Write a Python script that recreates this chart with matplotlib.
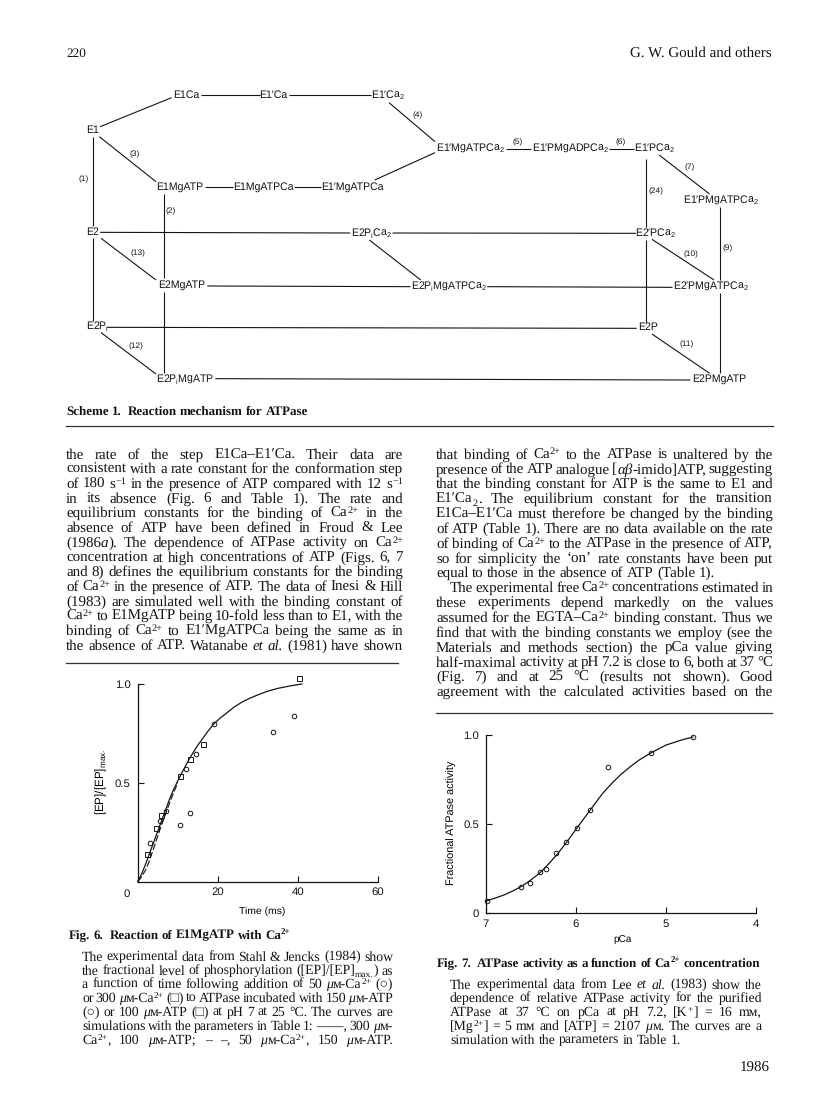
import re
import matplotlib
matplotlib.use("Agg")
import matplotlib.pyplot as plt

W, H = 816, 1101
SERIF = ['Liberation Serif', 'DejaVu Serif']
SANS = ['Liberation Sans', 'DejaVu Sans']
INK = '#141414'

plt.rcParams['font.family'] = SANS
plt.rcParams['mathtext.fontset'] = 'custom'
plt.rcParams['mathtext.rm'] = 'Liberation Sans'
plt.rcParams['mathtext.default'] = 'rm'
plt.rcParams['text.color'] = INK
plt.rcParams['text.hinting'] = 'no_hinting'
plt.rcParams['axes.edgecolor'] = INK
plt.rcParams['xtick.color'] = INK
plt.rcParams['ytick.color'] = INK

# --- Fig. 6 data ---
fig6_circle_t = [3.1, 5.6, 7.1, 10.6, 13.0, 12.0, 14.6, 19.0, 33.9, 39.1]
fig6_circle_y = [0.194, 0.308, 0.36, 0.285, 0.35, 0.572, 0.646, 0.798, 0.758, 0.84]
fig6_square_t = [2.2, 4.6, 5.7, 10.5, 13.0, 16.2, 40.2]
fig6_square_y = [0.141, 0.274, 0.338, 0.537, 0.623, 0.699, 1.03]
fig6_solid_t = [0, 1, 2, 3, 4, 5, 6, 7, 8, 9, 10, 11, 12, 13, 14, 15, 16, 17.5, 19, 20.5, 22, 24, 26, 28, 30, 32.5, 35, 38, 41]
fig6_solid_y = [0, 0.04, 0.09, 0.145, 0.2, 0.255, 0.31, 0.365, 0.42, 0.468, 0.51, 0.55, 0.588, 0.625, 0.658, 0.69, 0.718, 0.76, 0.798, 0.826, 0.85, 0.882, 0.908, 0.928, 0.945, 0.964, 0.978, 0.99, 1.0]
fig6_dash_t = [0, 1, 2, 3, 4, 5, 6, 7, 8, 9, 10]
fig6_dash_y = [0, 0.025, 0.06, 0.11, 0.17, 0.23, 0.29, 0.345, 0.40, 0.452, 0.50]

# --- Fig. 7 data ---
fig7_pca = [6.99, 6.61, 6.51, 6.40, 6.33, 6.22, 6.11, 5.99, 5.84, 5.64, 5.17, 4.70]
fig7_act = [0.066, 0.145, 0.165, 0.229, 0.248, 0.336, 0.397, 0.479, 0.581, 0.821, 0.898, 0.99]
fig7_curve_pca = [7, 6.9, 6.8, 6.7, 6.6, 6.5, 6.4, 6.3, 6.2, 6.1, 6, 5.92, 5.84, 5.77, 5.7, 5.6, 5.5, 5.4, 5.3, 5.17, 5.08, 5, 4.92, 4.85, 4.78, 4.7]
fig7_curve_act = [0.066, 0.082, 0.1, 0.123, 0.15, 0.185, 0.225, 0.277, 0.335, 0.4, 0.47, 0.525, 0.58, 0.628, 0.675, 0.73, 0.78, 0.822, 0.86, 0.9, 0.924, 0.945, 0.958, 0.97, 0.98, 0.99]

# --- Scheme 1: label, x, y ---
scheme_nodes = [
    ("E1Ca", 283, 135), ("E1′Ca", 478, 135), ("E1′Ca$_2$", 735, 137), ("E1", 72, 240),
    ("E1′MgATPCa$_2$", 920, 294), ("E1′PMgADPCa$_2$", 1143, 294), ("E1′PCa$_2$", 1332, 294),
    ("E1MgATP", 269, 410), ("E1MgATPCa", 456, 410), ("E1′MgATPCa", 656, 410),
    ("E1′PMgATPCa$_2$", 1480, 451), ("E2", 73, 545), ("E2P$_{\\mathrm{i}}$Ca$_2$", 698, 550),
    ("E2′PCa$_2$", 1333, 550), ("E2MgATP", 272, 706), ("E2P$_{\\mathrm{i}}$MgATPCa$_2$", 872, 709),
    ("E2′PMgATPCa$_2$", 1458, 709), ("E2P$_{\\mathrm{i}}$", 83, 828), ("E2P", 1318, 831),
    ("E2P$_{\\mathrm{i}}$MgATP", 281, 986), ("E2PMgATP", 1477, 988),
]
scheme_steps = [
    ("(1)", 52, 389), ("(3)", 168, 313), ("(2)", 248, 485), ("(13)", 175, 610), ("(12)", 169, 888),
    ("(4)", 802, 197), ("(5)", 1025, 276), ("(6)", 1256, 276), ("(7)", 1410, 352), ("(24)", 1335, 425),
    ("(9)", 1495, 596), ("(10)", 1414, 613), ("(11)", 1403, 884),
]
scheme_edges = [
    (90, 230, 250, 143), (315, 134, 447, 134), (512, 134, 697, 134), (737, 158, 840, 275),
    (840, 308, 705, 390), (1000, 297, 1056, 297), (1230, 297, 1286, 297), (1342, 315, 1455, 432),
    (1312, 328, 1312, 530), (1312, 570, 1312, 815), (1478, 470, 1478, 690), (1478, 730, 1478, 968),
    (75, 262, 75, 528), (75, 565, 75, 812), (88, 260, 215, 395), (325, 410, 388, 410),
    (525, 410, 585, 410), (232, 432, 232, 685), (232, 725, 232, 968), (90, 547, 650, 549),
    (745, 549, 1290, 550), (92, 565, 215, 690), (693, 570, 808, 690), (330, 708, 785, 710),
    (957, 710, 1372, 712), (1326, 568, 1465, 690), (105, 832, 1292, 835), (92, 848, 215, 972),
    (1326, 852, 1455, 970), (348, 986, 1412, 990),
]

# --- Page text ---
left_col = [
    "the rate of the step E1Ca–E1′Ca. Their data are",
    "consistent with a rate constant for the conformation step",
    "of 180 s^{−1} in the presence of ATP compared with 12 s^{−1}",
    "in its absence (Fig. 6 and Table 1). The rate and",
    "equilibrium constants for the binding of Ca^{2+} in the",
    "absence of ATP have been defined in Froud & Lee",
    "(1986*a*). The dependence of ATPase activity on Ca^{2+}",
    "concentration at high concentrations of ATP (Figs. 6, 7",
    "and 8) defines the equilibrium constants for the binding",
    "of Ca^{2+} in the presence of ATP. The data of Inesi & Hill",
    "(1983) are simulated well with the binding constant of",
    "Ca^{2+} to E1MgATP being 10-fold less than to E1, with the",
    "binding of Ca^{2+} to E1′MgATPCa being the same as in",
    "the absence of ATP. Watanabe *et* *al.* (1981) have shown",
]
right_col = [
    "that binding of Ca^{2+} to the ATPase is unaltered by the",
    "presence of the ATP analogue [*αβ*-imido]ATP, suggesting",
    "that the binding constant for ATP is the same to E1 and",
    "E1′Ca_{2}. The equilibrium constant for the transition",
    "E1Ca–E1′Ca must therefore be changed by the binding",
    "of ATP (Table 1). There are no data available on the rate",
    "of binding of Ca^{2+} to the ATPase in the presence of ATP,",
    "so for simplicity the ‘on’ rate constants have been put",
    "equal to those in the absence of ATP (Table 1).",
    "The experimental free Ca^{2+} concentrations estimated in",
    "these experiments depend markedly on the values",
    "assumed for the EGTA–Ca^{2+} binding constant. Thus we",
    "find that with the binding constants we employ (see the",
    "Materials and methods section) the pCa value giving",
    "half-maximal activity at pH 7.2 is close to 6, both at 37 °C",
    "(Fig. 7) and at 25 °C (results not shown). Good",
    "agreement with the calculated activities based on the",
]
fig6_caption = [
    "The experimental data from Stahl & Jencks (1984) show",
    "the fractional level of phosphorylation ([EP]/[EP]_{max.}) as",
    "a function of time following addition of 50 *μ*ᴍ-Ca^{2+} (○)",
    "or 300 *μ*ᴍ-Ca^{2+} (□) to ATPase incubated with 150 *μ*ᴍ-ATP",
    "(○) or 100 *μ*ᴍ-ATP (□) at pH 7 at 25 °C. The curves are",
    "simulations with the parameters in Table 1: ——, 300 *μ*ᴍ-",
    "Ca^{2+}, 100 *μ*ᴍ-ATP; – –, 50 *μ*ᴍ-Ca^{2+}, 150 *μ*ᴍ-ATP.",
]
fig7_caption = [
    "The experimental data from Lee *et* *al.* (1983) show the",
    "dependence of relative ATPase activity for the purified",
    "ATPase at 37 °C on pCa at pH 7.2, [K^{+}] = 16 mᴍ,",
    "[Mg^{2+}] = 5 mᴍ and [ATP] = 2107 *μ*ᴍ. The curves are a",
    "simulation with the parameters in Table 1.",
]

fig = plt.figure(figsize=(W / 100, H / 100), dpi=100, facecolor='white')
page = fig.add_axes([0, 0, 1, 1])
page.set_xlim(0, W)
page.set_ylim(H, 0)
page.axis('off')
renderer = fig.canvas.get_renderer()


def px_axes(x0, y0, x1, y1):
    return fig.add_axes([x0 / W, 1 - y1 / H, (x1 - x0) / W, (y1 - y0) / H])


def put(s, x, y, size, **kw):
    t = page.text(x, y, s, fontsize=size, family=SERIF, va='baseline', **kw)
    return t.get_window_extent(renderer).width


def word_runs(word):
    return [r for r in re.split(r'(\*[^*]+\*|_\{[^}]+\}|\^\{[^}]+\})', word) if r]


def put_word(word, x, y, size, weight='normal', draw=True):
    # a word can mix plain, italic, sub- and superscript pieces
    for run in word_runs(word):
        kw = {'weight': weight}
        yy, ss = y, size
        if run[0] == '*':
            run = run[1:-1]
            kw['style'] = 'italic'
        elif run[:2] == '_{':
            run = run[2:-1]
            yy, ss = y + 2.5, size * 0.68
        elif run[:2] == '^{':
            run = run[2:-1]
            yy, ss = y - 4, size * 0.68
        t = page.text(x, yy, run, fontsize=ss, family=SERIF, va='baseline', **kw)
        w = t.get_window_extent(renderer).width
        if not draw:
            t.remove()
        x += w
    return x


def text_line(line, x0, x1, y, size, justify=True, weight='normal'):
    words = line.split(' ')
    widths = [put_word(w, 0, -50, size, weight, draw=False) for w in words]
    gap = size * 0.33
    if justify and len(words) > 1:
        gap = (x1 - x0 - sum(widths)) / (len(words) - 1)
    x = x0
    for w, wd in zip(words, widths):
        put_word(w, x, y, size, weight)
        x += wd + gap


# --- header ---
put("220", 66, 57, 9.5)
put("G. W. Gould and others", 772, 57, 10.8, ha='right')

# --- Scheme 1 (x in 1/2.24 px, y in 1/3 px) ---
sch = px_axes(60, 50, 760, 400)
sch.set_xlim(0, 1568)
sch.set_ylim(1050, 0)
sch.axis('off')
for x0, y0, x1, y1 in scheme_edges:
    sch.plot([x0, x1], [y0, y1], color=INK, lw=0.8, solid_capstyle='butt')
for label, x, y in scheme_nodes:
    sch.text(x, y, label, fontsize=7.6, ha='center', va='center')
for label, x, y in scheme_steps:
    sch.text(x, y, label, fontsize=6, ha='center', va='center')

text_line("Scheme 1.  Reaction mechanism for ATPase", 66, 0, 415, 9.4, justify=False, weight='bold')
page.plot([66, 773], [425.5, 425.5], color='#333333', lw=0.9)

# --- body columns ---
for i, line in enumerate(left_col):
    text_line(line, 66, 403, 458.5 + i * 14.7, 10.8)
for i, line in enumerate(right_col):
    x0 = 450 if i == 9 else 436
    text_line(line, x0, 773, 458.5 + i * 14.85, 10.8, justify=i != 8)
page.plot([66, 398], [663, 663], color='#333333', lw=0.9)
page.plot([436, 772], [712.5, 712.5], color='#333333', lw=0.9)

# --- Fig. 6 ---
ax6 = px_axes(137.7, 684, 378, 881.7)
ax6.plot(fig6_solid_t, fig6_solid_y, color=INK, lw=0.9, clip_on=False)
ax6.plot(fig6_dash_t, fig6_dash_y, color=INK, lw=0.8, dashes=(6, 2), clip_on=False)
ax6.plot(fig6_circle_t, fig6_circle_y, 'o', ms=3.3, mfc='none', mec=INK, mew=0.7, clip_on=False)
ax6.plot(fig6_square_t, fig6_square_y, 's', ms=3.6, mfc='none', mec=INK, mew=0.7, clip_on=False)
ax6.set_xlim(0, 60)
ax6.set_ylim(0, 1.0)
ax6.set_xticks([0, 20, 40, 60])
ax6.set_xticklabels(['', '20', '40', '60'])
ax6.set_yticks([0.5, 1.0])
ax6.set_yticklabels(['0.5', '1.0'])
ax6.text(-0.044, -0.062, '0', transform=ax6.transAxes, fontsize=8.2, ha='center', va='center')
ax6.set_xlabel('Time (ms)', fontsize=7.5, va='center')
ax6.set_ylabel('[EP]/[EP]$_{\\mathrm{max.}}$', fontsize=8.4, va='center')
ax6.xaxis.set_label_coords(0.517, -0.148)
ax6.yaxis.set_label_coords(-0.149, 0.504)

# --- Fig. 7 ---
ax7 = px_axes(486, 735.3, 756, 912.7)
ax7.plot(fig7_curve_pca, fig7_curve_act, color=INK, lw=0.9, clip_on=False)
ax7.plot(fig7_pca, fig7_act, 'o', ms=3.3, mfc='none', mec=INK, mew=0.7, clip_on=False)
ax7.set_xlim(7, 4)
ax7.set_ylim(0, 1.0)
ax7.set_xticks([7, 6, 5, 4])
ax7.set_yticks([0, 0.5, 1.0])
ax7.set_yticklabels(['0', '0.5', '1.0'])
ax7.set_xlabel('pCa', fontsize=7.2, va='center')
ax7.set_ylabel('Fractional ATPase activity', fontsize=7.8, va='center')
ax7.xaxis.set_label_coords(0.504, -0.154)
ax7.yaxis.set_label_coords(-0.126, 0.506)

for ax, xpad in ((ax6, 3.6), (ax7, 4.5)):
    ax.spines[['top', 'right']].set_visible(False)
    ax.spines[['left', 'bottom']].set_linewidth(0.9)
    ax.tick_params(axis='x', direction='in', length=4, width=0.8, labelsize=8.2, pad=xpad)
    ax.tick_params(axis='y', direction='in', length=4, width=0.8, labelsize=8.2, pad=5)
    ax.patch.set_alpha(0)

# --- captions ---
text_line("Fig. 6.  Reaction of E1MgATP with Ca^{2+}", 69, 0, 938.5, 9.4, justify=False, weight='bold')
for i, line in enumerate(fig6_caption):
    text_line(line, 82, 393, 960.5 + i * 13.9, 9.9)

text_line("Fig. 7.  ATPase activity as a function of Ca^{2+} concentration", 437, 0, 966.5, 9.4,
          justify=False, weight='bold')
for i, line in enumerate(fig7_caption):
    text_line(line, 450, 762, 988.5 + i * 13.75, 9.9, justify=i != 4)

put("1986", 770, 1072, 10.8, ha='right')

fig.savefig('out.png', dpi=100)
